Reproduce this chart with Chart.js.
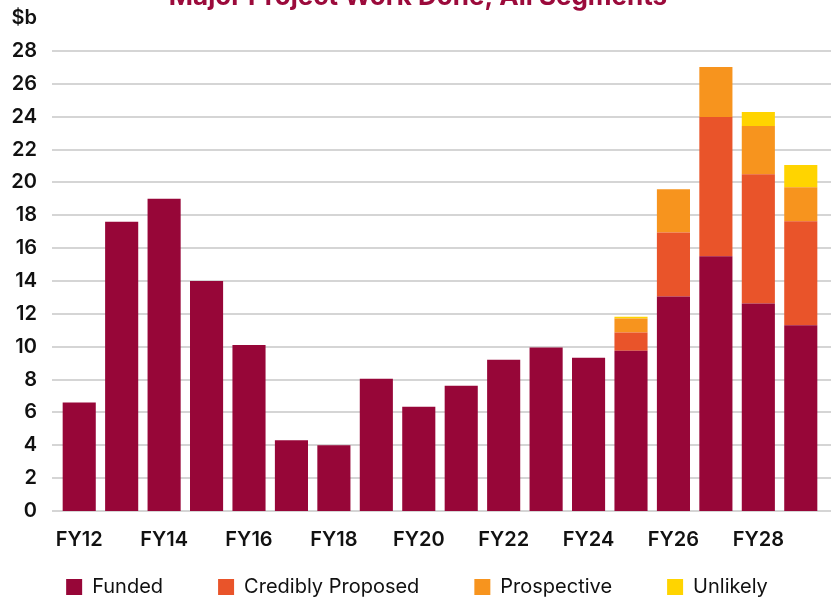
<!DOCTYPE html>
<html lang="en">
<head>
    <title>Major Project Work Done, All Segments</title>
    <meta charset="utf-8" />
    <script src="https://cdn.jsdelivr.net/npm/chart.js"></script>
    <style>
        html, body { margin: 0; padding: 0; background: #fff; }
        /* canvas has to fill the 831x599 window */
        #wrap { width: 831px; height: 599px; position: relative; }
    </style>
</head>
<body>
    <div id="wrap"><canvas id="chart"></canvas></div>

    <script>
        // Financial years on the x axis
        const years = ['FY12', 'FY13', 'FY14', 'FY15', 'FY16', 'FY17', 'FY18', 'FY19', 'FY20',
                       'FY21', 'FY22', 'FY23', 'FY24', 'FY25', 'FY26', 'FY27', 'FY28', 'FY29'];

        // Work done by segment, $b
        const funded      = [6.6, 17.6, 19.0, 14.0, 10.1, 4.3, 4.0, 8.05, 6.35, 7.63, 9.2, 9.95, 9.33, 9.76, 13.05, 15.5, 12.63, 11.3];
        const credibly    = [0, 0, 0, 0, 0, 0, 0, 0, 0, 0, 0, 0, 0, 1.1, 3.9, 8.48, 7.87, 6.34];
        const prospective = [0, 0, 0, 0, 0, 0, 0, 0, 0, 0, 0, 0, 0, 0.85, 2.63, 3.05, 2.93, 2.07];
        const unlikely    = [0, 0, 0, 0, 0, 0, 0, 0, 0, 0, 0, 0, 0, 0.12, 0, 0, 0.85, 1.35];

        const yTicks = [0, 2, 4, 6, 8, 10, 12, 14, 16, 18, 20, 22, 24, 26, 28];

        const FONT = 'Inter';

        // Gridlines run a bit wider than the bars, plus the "$b" unit and the title
        const extras = {
            id: 'extras',
            afterLayout(chart) {
                // legend sits lower than its box and a little to the right
                const lg = chart.legend;
                lg.top = 522;
                lg.left += 6;
                lg.right += 6;
            },
            beforeDatasetsDraw(chart) {
                const ctx = chart.ctx;
                const y = chart.scales.y;
                ctx.save();
                ctx.strokeStyle = '#d5d5d5';
                ctx.lineWidth = 2;
                yTicks.forEach(v => {
                    const py = Math.round(y.getPixelForValue(v));
                    ctx.beginPath();
                    ctx.moveTo(52, py);
                    ctx.lineTo(chart.width, py);
                    ctx.stroke();
                });
                ctx.restore();
            },
            afterDraw(chart) {
                const ctx = chart.ctx;
                ctx.save();
                ctx.fillStyle = '#111';
                ctx.font = '600 20px ' + FONT;
                ctx.textAlign = 'right';
                ctx.textBaseline = 'middle';
                ctx.fillText('$b', 37, 18);

                ctx.fillStyle = '#9b0a3b';
                ctx.font = 'bold 26px ' + FONT;
                ctx.textAlign = 'center';
                ctx.textBaseline = 'alphabetic';
                ctx.fillText('Major Project Work Done, All Segments', 418, 5);
                ctx.restore();
            }
        };

        new Chart(document.getElementById('chart'), {
            type: 'bar',
            data: {
                labels: years,
                datasets: [
                    { label: 'Funded', data: funded, backgroundColor: '#970638' },
                    { label: 'Credibly Proposed', data: credibly, backgroundColor: '#e9542a' },
                    { label: 'Prospective', data: prospective, backgroundColor: '#f7941e' },
                    { label: 'Unlikely', data: unlikely, backgroundColor: '#ffd400' }
                ]
            },
            options: {
                responsive: true,
                maintainAspectRatio: false,
                animation: false,
                layout: { padding: { top: 51, right: 9, left: 0, bottom: 0 } },
                datasets: { bar: { categoryPercentage: 1, barPercentage: 0.78 } },
                scales: {
                    x: {
                        stacked: true,
                        grid: { display: false, drawTicks: false },
                        border: { display: false },
                        ticks: {
                            autoSkip: false,
                            maxRotation: 0,
                            padding: 17,
                            color: '#111',
                            font: { family: FONT, size: 20, weight: '600' },
                            callback: (val, i) => (i % 2 === 0 ? years[i] : '')
                        }
                    },
                    y: {
                        stacked: true,
                        min: 0,
                        max: 28,
                        grid: { display: false, drawTicks: false },
                        border: { display: false },
                        afterFit: s => { s.width = 58; },
                        ticks: {
                            stepSize: 2,
                            padding: 21,
                            color: '#111',
                            font: { family: FONT, size: 20, weight: '600' }
                        }
                    }
                },
                plugins: {
                    tooltip: { enabled: false },
                    legend: {
                        position: 'bottom',
                        maxHeight: 30,
                        labels: {
                            boxWidth: 16,
                            boxHeight: 16,
                            padding: 55,
                            color: '#111',
                            font: { family: FONT, size: 20 }
                        }
                    }
                }
            },
            plugins: [extras]
        });
    </script>
</body>
</html>
